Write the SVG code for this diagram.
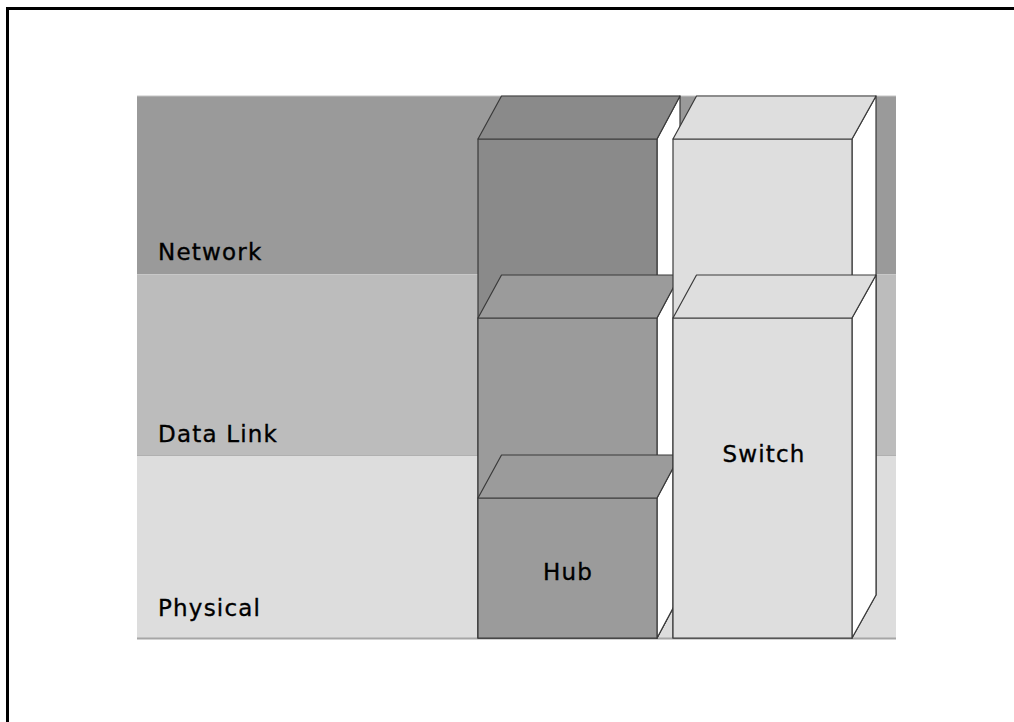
<svg xmlns="http://www.w3.org/2000/svg" width="1014" height="722" viewBox="0 0 1014 722">
  <style>
    .frame { fill: none; stroke: #000; stroke-width: 3; }
    .edge { stroke: #3a3a3a; stroke-width: 1.2; stroke-linejoin: round; }
    .hub-net { fill: #8a8a8a; }
    .hub-low { fill: #9b9b9b; }
    .sw { fill: #dedede; }
    .side { fill: #ffffff; }
    .label { font-family: "DejaVu Sans", "Liberation Sans", sans-serif; font-size: 23px; letter-spacing: 1.2px; fill: #000; stroke: #000; stroke-width: 0.35px; }
  </style>

  <!-- page frame -->
  <path class="frame" d="M7.5,722 V8.5 H1014"/>

  <!-- layer bands -->
  <g id="layers">
    <rect x="137" y="96" width="759" height="179" fill="#9a9a9a"/>
    <rect x="137" y="275" width="759" height="181" fill="#bcbcbc"/>
    <rect x="137" y="456" width="759" height="182" fill="#dddddd"/>
    <line x1="137" y1="96" x2="896" y2="96" stroke="#c4c4c4" stroke-width="1"/>
    <line x1="137" y1="274.5" x2="896" y2="274.5" stroke="#c8c8c8" stroke-width="1"/>
    <line x1="137" y1="455.5" x2="896" y2="455.5" stroke="#b0b0b0" stroke-width="1"/>
    <line x1="137" y1="638.5" x2="896" y2="638.5" stroke="#a6a6a6" stroke-width="2"/>
    <text class="label" x="158" y="259.5" letter-spacing="2">Network</text>
    <text class="label" x="158" y="442">Data Link</text>
    <text class="label" x="158" y="616" letter-spacing="0.5">Physical</text>
  </g>

  <!-- hub column: network, data link and physical blocks -->
  <g id="hub-network">
    <polygon class="side edge" points="657,139 680,96 680,595 657,638"/>
    <rect class="hub-net edge" x="478" y="139" width="179" height="499"/>
    <polygon class="hub-net edge" points="478,139 501.5,96 680,96 657,139"/>
  </g>
  <g id="hub-datalink">
    <polygon class="side edge" points="657,318 680,275 680,595 657,638"/>
    <rect class="hub-low edge" x="478" y="318" width="179" height="320"/>
    <polygon class="hub-low edge" points="478,318 501.5,275 680,275 657,318"/>
  </g>
  <g id="hub-physical">
    <polygon class="side edge" points="657,498 680,455 680,595 657,638"/>
    <rect class="hub-low edge" x="478" y="498" width="179" height="140"/>
    <polygon class="hub-low edge" points="478,498 501.5,455 680,455 657,498"/>
    <text class="label" x="568" y="580" text-anchor="middle">Hub</text>
  </g>

  <!-- switch column: network and data link blocks -->
  <g id="switch-network">
    <polygon class="side edge" points="852,139 876,96 876,595 852,638"/>
    <rect class="sw edge" x="673" y="139" width="179" height="499"/>
    <polygon class="sw edge" points="673,139 696.5,96 876,96 852,139"/>
  </g>
  <g id="switch-datalink">
    <polygon class="side edge" points="852,318 876,275 876,595 852,638"/>
    <rect class="sw edge" x="673" y="318" width="179" height="320"/>
    <polygon class="sw edge" points="673,318 696.5,275 876,275 852,318"/>
    <text class="label" x="764" y="462" text-anchor="middle">Switch</text>
  </g>
</svg>
